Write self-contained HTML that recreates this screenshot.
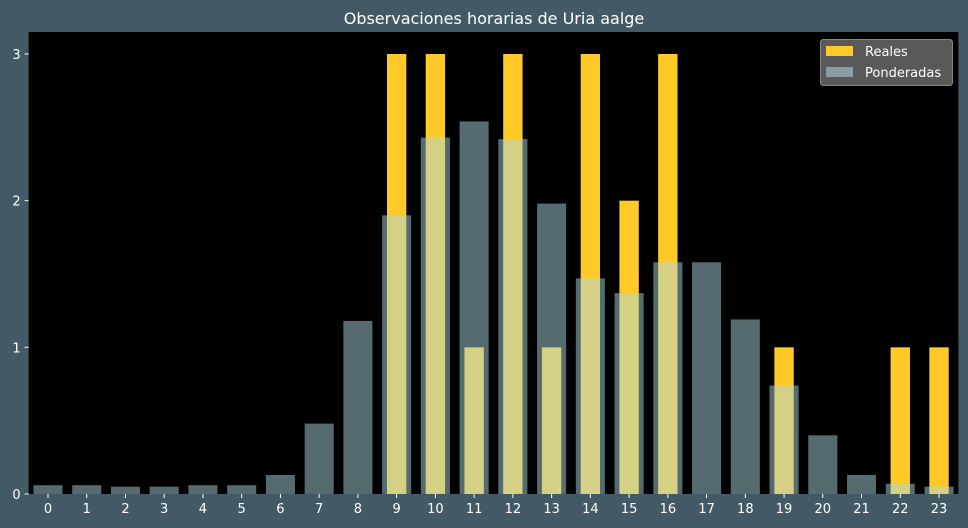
<!DOCTYPE html>
<html><head><meta charset="utf-8"><style>
body{margin:0;background:#435a66;width:968px;height:528px;overflow:hidden}
svg{display:block;font-family:"DejaVu Sans","Liberation Sans",sans-serif}
</style></head><body>
<svg id="c" width="968" height="528"></svg>
<script>
const hours=[0,1,2,3,4,5,6,7,8,9,10,11,12,13,14,15,16,17,18,19,20,21,22,23];
const realValues=[0,0,0,0,0,0,0,0,0,3,3,1,3,1,3,2,3,0,0,1,0,0,1,1];
const weightedValues=[0.06,0.06,0.05,0.05,0.06,0.06,0.13,0.48,1.18,1.90,2.43,2.54,2.42,1.98,1.47,1.37,1.58,1.58,1.19,0.74,0.40,0.13,0.07,0.05];
const yTicks=[0,1,2,3];
const NS="http://www.w3.org/2000/svg";
const svg=document.getElementById('c');
const L=28.6,R=958.4,T=32,B=494;
const x=v=>L+(v+0.5)*(R-L)/24;
const y=v=>B-v*(494-54)/3;
function mk(t,a,p){const e=document.createElementNS(NS,t);for(const k in a)e.setAttribute(k,a[k]);(p||svg).appendChild(e);return e;}
const bg=mk('rect',{x:L,y:T,width:R-L,height:B-T,fill:'#000'});


const tt=mk('text',{x:494,y:24,fill:'#fff','font-size':16,'text-anchor':'middle'});
tt.textContent='Observaciones horarias de Uria aalge';


const uw=(R-L)/24;
hours.forEach((h,i)=>{
  const r=mk('rect',{x:x(h)-uw*0.25,y:y(realValues[i]),width:uw*0.5,height:B-y(realValues[i]),fill:'#ffca28'});
  
  
});
hours.forEach((h,i)=>{
  const r=mk('rect',{x:x(h)-uw*0.375,y:y(weightedValues[i]),width:uw*0.75,height:B-y(weightedValues[i]),fill:'rgb(170,214,224)','fill-opacity':0.5});
  
  
});
hours.forEach(h=>{
  mk('line',{x1:x(h),x2:x(h),y1:B,y2:B+4,stroke:'#fff'});
  const t=mk('text',{x:x(h),y:B+19,fill:'#fff','font-size':13,'text-anchor':'middle'});
  t.textContent=h;
  
  
});
yTicks.forEach(v=>{
  mk('line',{x1:L-4,x2:L,y1:y(v),y2:y(v),stroke:'#fff'});
  const t=mk('text',{x:L-8,y:y(v)+5,fill:'#fff','font-size':13,'text-anchor':'end'});
  t.textContent=v;
  
  
});
const lg=mk('g',{});


mk('rect',{x:820.5,y:39.5,width:132,height:46,rx:3,fill:'#595959',stroke:'#888'},lg);
mk('rect',{x:826,y:46,width:27,height:10,fill:'#ffca28'},lg);
mk('rect',{x:826,y:67,width:27,height:10,fill:'#8a9ea3'},lg);
const t1=mk('text',{x:865,y:56,fill:'#fff','font-size':13},lg);t1.textContent='Reales';


const t2=mk('text',{x:865,y:77,fill:'#fff','font-size':13},lg);t2.textContent='Ponderadas';


</script>
</body></html>
